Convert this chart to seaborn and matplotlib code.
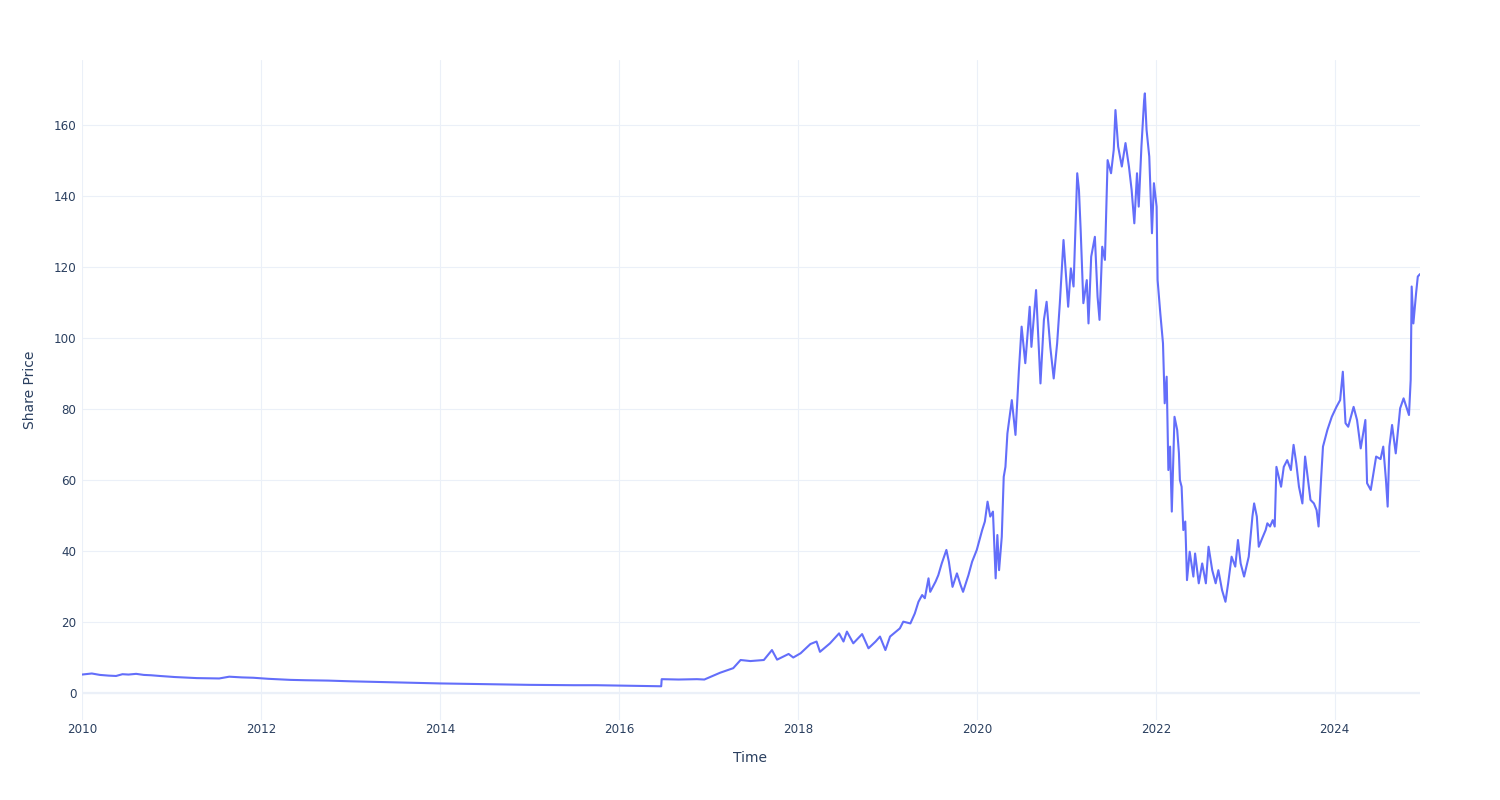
import seaborn as sns
import pandas as pd
import matplotlib.pyplot as plt
import matplotlib.dates as mdates

# Share price (approximate)
dates = [
    "2010-01-01", "2010-02-10", "2010-03-15", "2010-04-20", "2010-05-20", "2010-06-15",
    "2010-07-10", "2010-08-10", "2010-09-10", "2010-10-10", "2010-11-15", "2011-01-15",
    "2011-04-15", "2011-07-15", "2011-08-25", "2011-10-15", "2011-12-01", "2012-02-01",
    "2012-05-01", "2012-07-01", "2012-10-01", "2013-01-01", "2013-07-01", "2014-01-01",
    "2014-07-01", "2015-01-01", "2015-07-01", "2015-10-01", "2016-01-01", "2016-06-22",
    "2016-06-24", "2016-09-01", "2016-11-15", "2016-12-15",
    "2017-02-17", "2017-04-12", "2017-05-12", "2017-06-21", "2017-08-15", "2017-09-17",
    "2017-10-08", "2017-11-24", "2017-12-13", "2018-01-12", "2018-02-21", "2018-03-18",
    "2018-04-01", "2018-05-12", "2018-06-18", "2018-07-06", "2018-07-20", "2018-08-15",
    "2018-09-20", "2018-10-16", "2018-11-14", "2018-12-02", "2018-12-24", "2019-01-12",
    "2019-02-21", "2019-03-07", "2019-04-05", "2019-04-23", "2019-05-08", "2019-05-23",
    "2019-06-03", "2019-06-18", "2019-06-25", "2019-07-17", "2019-07-28", "2019-08-11",
    "2019-08-30", "2019-09-09", "2019-09-24", "2019-10-12", "2019-10-27", "2019-11-06",
    "2019-11-28", "2019-12-13", "2020-01-01", "2020-01-23", "2020-02-03", "2020-02-14",
    "2020-02-25", "2020-03-07", "2020-03-18", "2020-03-25", "2020-04-01", "2020-04-12",
    "2020-04-20", "2020-04-27", "2020-05-05", "2020-05-23", "2020-06-07", "2020-06-21",
    "2020-07-02", "2020-07-17", "2020-08-04", "2020-08-11", "2020-08-30", "2020-09-17",
    "2020-10-01", "2020-10-12", "2020-10-27", "2020-11-10", "2020-11-24", "2020-12-05",
    "2020-12-20", "2021-01-08", "2021-01-19", "2021-01-30", "2021-02-14", "2021-02-21",
    "2021-02-28", "2021-03-11", "2021-03-25", "2021-04-01", "2021-04-12", "2021-04-27",
    "2021-05-08", "2021-05-16", "2021-05-27", "2021-06-07", "2021-06-18", "2021-07-02",
    "2021-07-13", "2021-07-20", "2021-07-31", "2021-08-15", "2021-08-30", "2021-09-13",
    "2021-09-24", "2021-10-05", "2021-10-16", "2021-10-23", "2021-11-03", "2021-11-14",
    "2021-11-17", "2021-11-24", "2021-12-05", "2021-12-16", "2021-12-24", "2022-01-04",
    "2022-01-08", "2022-01-19", "2022-01-30", "2022-02-06", "2022-02-14", "2022-02-21",
    "2022-02-28", "2022-03-07", "2022-03-18", "2022-03-29", "2022-04-05", "2022-04-09",
    "2022-04-16", "2022-04-23", "2022-05-01", "2022-05-08", "2022-05-19", "2022-06-03",
    "2022-06-10", "2022-06-25", "2022-07-09", "2022-07-24", "2022-08-04", "2022-08-19",
    "2022-09-02", "2022-09-13", "2022-09-28", "2022-10-12", "2022-10-23", "2022-11-06",
    "2022-11-21", "2022-12-02", "2022-12-13", "2022-12-27", "2023-01-15", "2023-01-30",
    "2023-02-06", "2023-02-17", "2023-02-25", "2023-03-11", "2023-03-25", "2023-04-01",
    "2023-04-12", "2023-04-23", "2023-05-01", "2023-05-08", "2023-05-27", "2023-06-07",
    "2023-06-21", "2023-07-06", "2023-07-17", "2023-07-28", "2023-08-08", "2023-08-22",
    "2023-09-02", "2023-09-09", "2023-09-24", "2023-10-08", "2023-10-19", "2023-10-27",
    "2023-11-06", "2023-11-14", "2023-12-02", "2023-12-20", "2024-01-08", "2024-01-23",
    "2024-02-03", "2024-02-14", "2024-02-25", "2024-03-18", "2024-04-01", "2024-04-16",
    "2024-05-05", "2024-05-12", "2024-05-27", "2024-06-18", "2024-07-06", "2024-07-17",
    "2024-07-28", "2024-08-04", "2024-08-11", "2024-08-22", "2024-09-06", "2024-09-24",
    "2024-10-08", "2024-10-30", "2024-11-06", "2024-11-08", "2024-11-10", "2024-11-17",
    "2024-11-28", "2024-12-05", "2024-12-14",
]

prices = [
    5.2, 5.5, 5.1, 4.9, 4.8, 5.3,
    5.2, 5.4, 5.1, 5.0, 4.8, 4.5,
    4.2, 4.1, 4.6, 4.4, 4.3, 4.0,
    3.7, 3.6, 3.5, 3.3, 3.0, 2.7,
    2.5, 2.3, 2.2, 2.2, 2.1, 1.9,
    3.9, 3.8, 3.9, 3.8,
    5.7, 7.0, 9.3, 9.0, 9.3, 12.1,
    9.4, 11.0, 10.0, 11.2, 13.8, 14.5,
    11.6, 14.0, 16.8, 14.5, 17.3, 14.0,
    16.6, 12.6, 14.5, 15.9, 12.1, 15.9,
    18.2, 20.1, 19.6, 22.4, 25.7, 27.6,
    26.7, 32.3, 28.5, 31.4, 33.2, 36.5,
    40.3, 37.0, 29.9, 33.7, 30.4, 28.5,
    33.2, 37.0, 40.3, 45.9, 48.3, 53.9,
    49.7, 51.1, 32.3, 44.5, 34.6, 44.0,
    60.9, 63.7, 73.1, 82.5, 72.7, 91.0,
    103.2, 92.9, 108.8, 97.5, 113.5, 87.2,
    105.1, 110.2, 97.5, 88.6, 98.5, 109.8,
    127.6, 108.8, 119.6, 114.5, 146.4, 141.7,
    130.4, 109.8, 116.3, 104.1, 122.9, 128.5,
    111.6, 105.1, 125.7, 122.0, 150.1, 146.4,
    153.0, 164.2, 153.9, 148.3, 154.9, 148.3,
    141.7, 132.3, 146.4, 137.0, 153.9, 167.0,
    168.9, 158.6, 151.1, 129.5, 143.6, 137.0,
    116.3, 107.0, 98.5, 81.6, 89.1, 62.8,
    69.4, 51.1, 77.8, 74.1, 67.6, 60.0,
    58.1, 45.9, 48.3, 31.8, 39.8, 32.8,
    39.3, 30.9, 36.5, 30.9, 41.2, 34.6,
    30.9, 34.6, 29.0, 25.7, 30.9, 38.4,
    35.6, 43.1, 36.5, 32.8, 38.4, 49.7,
    53.4, 49.7, 41.2, 43.6, 45.9, 47.8,
    46.9, 48.7, 46.9, 63.7, 58.1, 63.7,
    65.6, 62.8, 69.9, 64.7, 58.1, 53.4,
    66.6, 62.8, 54.4, 53.4, 51.5, 46.9,
    60.0, 69.4, 74.1, 77.8, 80.6, 82.5,
    90.5, 76.0, 75.0, 80.6, 76.9, 68.9,
    76.9, 59.1, 57.2, 66.6, 65.9, 69.4,
    60.0, 52.5, 69.4, 75.5, 67.5, 80.2,
    83.0, 78.3, 88.2, 102.3, 114.5, 104.1,
    112.6, 117.3, 118.0,
]

y_ticks = [0, 20, 40, 60, 80, 100, 120, 140, 160]

TEXT = "#2a3f5f"
GRID = "#EBF0F8"
LINE = "#636EFA"

df = pd.DataFrame({"Time": pd.to_datetime(dates), "Share Price": prices})

sns.set_style("white")
plt.rcParams["font.family"] = ["DejaVu Sans"]

fig = plt.figure(figsize=(15, 8), dpi=100)
ax = fig.add_axes([82 / 1500, 80 / 800, 1338 / 1500, 660 / 800])

sns.lineplot(data=df, x="Time", y="Share Price", ax=ax, color=LINE, linewidth=1.5)

ax.set_xlim(df["Time"].min(), df["Time"].max())
ax.set_ylim(-7.6, 178.3)
ax.set_yticks(y_ticks)
ax.xaxis.set_major_locator(mdates.YearLocator(2))
ax.xaxis.set_major_formatter(mdates.DateFormatter("%Y"))

ax.grid(True, color=GRID, linewidth=0.8)
ax.set_axisbelow(True)
ax.axhline(0, color=GRID, linewidth=1.6, zorder=0)
for s in ax.spines.values():
    s.set_visible(False)

ax.tick_params(axis="both", length=0, labelsize=8.6, labelcolor=TEXT)
ax.tick_params(axis="y", pad=4)
ax.tick_params(axis="x", pad=2)

ax.set_xlabel("Time", fontsize=10, color=TEXT)
ax.set_ylabel("Share Price", fontsize=10, color=TEXT)
ax.xaxis.set_label_coords(0.499, -0.047)
ax.yaxis.set_label_coords(-0.034, 0.5)

plt.savefig("out.png", dpi=100)
plt.close()
